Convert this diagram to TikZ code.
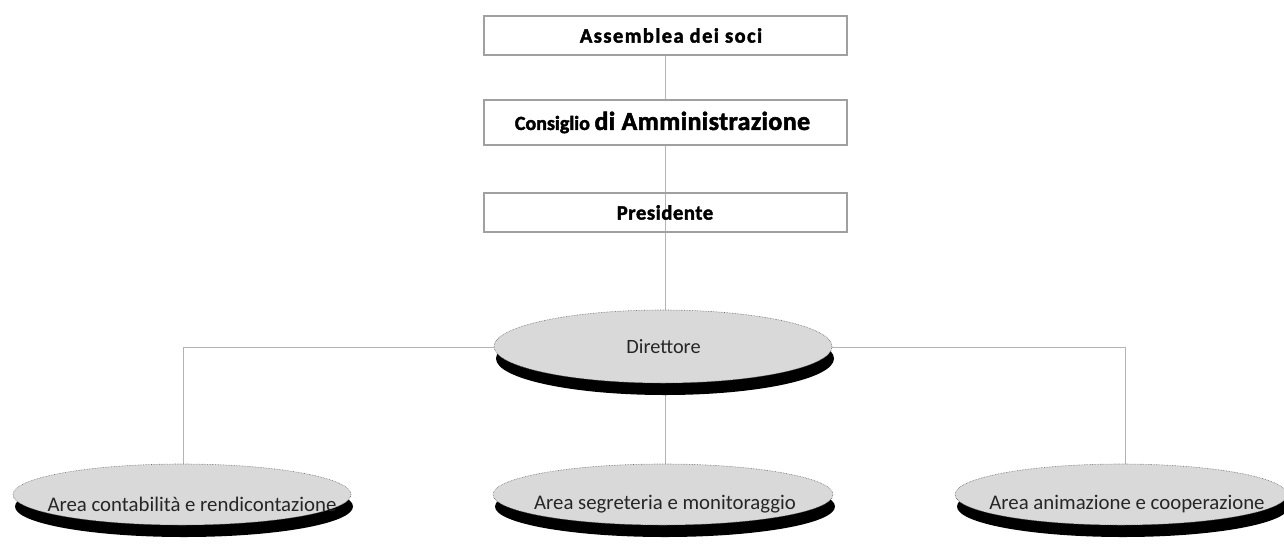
\documentclass[tikz,border=0pt]{standalone}
\usepackage{fontspec}
\setmainfont{Carlito}
\newfontfamily\heavyfont{Carlito}[BoldFeatures={FakeBold=2}]
\usetikzlibrary{shapes.geometric,shadows}
\definecolor{linegray}{HTML}{B4B4B4}
\definecolor{boxgray}{HTML}{A0A0A0}
\definecolor{ellfill}{HTML}{D9D9D9}
\begin{document}
\begin{tikzpicture}[x=1pt,y=-1pt,
  topbox/.style={draw=boxgray,line width=1.2pt,minimum width=363pt,inner sep=0pt},
  boxtext/.style={inner sep=0pt,font=\heavyfont\bfseries\fontsize{20.5}{24}\selectfont},
  conn/.style={draw=linegray,line width=1pt},
  oval/.style={ellipse,fill=ellfill,draw=black!60,densely dotted,line width=0.6pt,inner sep=0pt,
     drop shadow={shadow xshift=2pt,shadow yshift=-12pt,opacity=1,fill=black}},
  ovaltext/.style={font=\fontsize{20.8}{24}\selectfont,text=black!85}]
\useasboundingbox (0,0) rectangle (1284,549);
% connectors
\draw[conn] (665.5,55) -- (665.5,100);
\draw[conn] (665.5,145) -- (665.5,347);
\draw[conn] (665.5,347) -- (665.5,490);
\draw[conn] (183,347) -- (1125,347);
\draw[conn] (183,347) -- (183,490);
\draw[conn] (1125,347) -- (1125,490);
% boxes
\node[topbox,minimum height=39pt] (ass) at (665.5,35.5) {};
\node[boxtext] (asst) at (671,35.5) {\addfontfeatures{LetterSpace=7}Assemblea dei soci};
\node[topbox,minimum height=45pt] (cda) at (665.5,122.5) {};
\node[boxtext] (cdat) at (662.5,122.5) {{\fontsize{20}{24}\selectfont Consiglio} {\fontsize{26}{28}\selectfont\addfontfeatures{LetterSpace=1.5}di Amministrazione}};
\node[topbox,minimum height=39pt] (pres) at (665.5,212.5) {};
\node[boxtext] (prest) at (665,212.5) {\addfontfeatures{LetterSpace=3}Presidente};
% ellipses
\node[oval,minimum width=338pt,minimum height=73pt] (dir) at (663,346.5) {};
\node[ovaltext,font=\fontsize{20.3}{24}\selectfont] (dirt) at (663.5,347) {Direttore};
\node[oval,minimum width=338pt,minimum height=61pt] (a1) at (182,494.5) {};
\node[ovaltext] (a1t) at (192,504) {Area contabilità e rendicontazione};
\node[oval,minimum width=340pt,minimum height=61pt] (a2) at (663,494.5) {};
\node[ovaltext] (a2t) at (665,504) {Area segreteria e monitoraggio};
\node[oval,minimum width=332pt,minimum height=61pt] (a3) at (1121,494.5) {};
\node[ovaltext] (a3t) at (1127,504) {Area animazione e cooperazione};
\end{tikzpicture}
\end{document}
